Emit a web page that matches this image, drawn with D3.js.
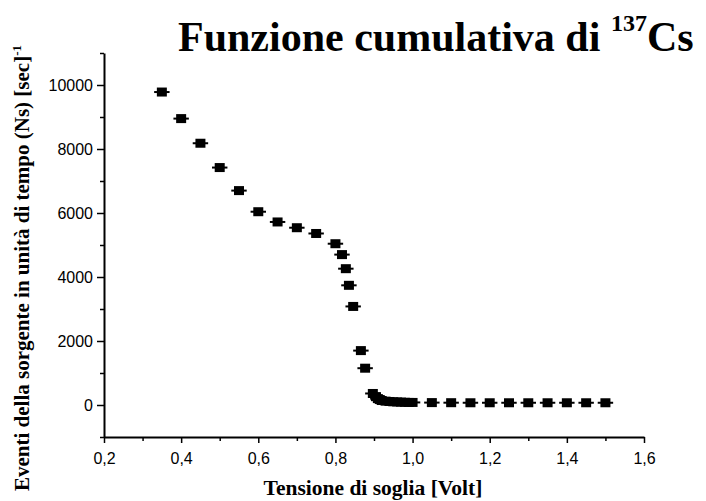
<!DOCTYPE html>
<html><head><meta charset="utf-8">
<script src="https://cdn.jsdelivr.net/npm/d3@7"></script>
<style>body{margin:0;background:#fff}svg{display:block}</style>
</head><body>
<script>
const voltage = [0.35,0.40,0.45,0.50,0.55,0.60,0.65,0.70,0.75,0.80,0.817,0.827,0.835,0.846,0.866,0.877,0.897,0.905,0.91,0.915,0.92,0.93,0.94,0.95,0.96,0.97,0.98,0.99,1.00,1.05,1.10,1.15,1.20,1.25,1.30,1.35,1.40,1.45,1.50];
const counts  = [9780,8950,8180,7420,6700,6040,5720,5540,5360,5040,4700,4260,3740,3080,1700,1150,360,260,200,170,140,120,110,100,95,90,85,80,80,75,72,70,70,70,70,70,70,70,70];
const xTicks = [0.2,0.4,0.6,0.8,1.0,1.2,1.4,1.6];
const xMinor = [0.3,0.5,0.7,0.9,1.1,1.3,1.5];
const yTicks = [0,2000,4000,6000,8000,10000];
const yMinor = [-1000,1000,3000,5000,7000,9000,11000];
const xErr = 0.02;

const W=706,H=501;
const svg=d3.select("body").append("svg").attr("width",W).attr("height",H);
const x=d3.scaleLinear().domain([0.2,1.6]).range([104,644]);
const y=d3.scaleLinear().domain([-1000,11000]).range([437,53]);
const fmt=d=>d3.format(".1f")(d).replace(".",",");

// axes
const xAx=svg.append("g").attr("transform",`translate(0,${y(-1000)})`)
  .call(d3.axisBottom(x).tickValues(xTicks).tickFormat(fmt).tickSize(6).tickSizeOuter(0));
const yAx=svg.append("g").attr("transform",`translate(${x(0.2)},0)`)
  .call(d3.axisLeft(y).tickValues(yTicks).tickFormat(d3.format("d")).tickSize(7).tickSizeOuter(0));
[xAx,yAx].forEach(g=>{
  g.attr("font-size",16).attr("font-family","'Liberation Sans',Arial,sans-serif");
  g.select(".domain").attr("stroke","#000").attr("stroke-width",2);
  g.selectAll(".tick line").attr("stroke","#000").attr("stroke-width",1.5);
  g.selectAll("text").attr("font-family","'Liberation Sans',Arial,sans-serif").attr("font-size",16).attr("fill","#000");
});
xAx.selectAll("text").attr("dy","1.15em");
yAx.selectAll("text").attr("dx","-1");
svg.append("g").attr("transform",`translate(0,${y(-1000)})`)
  .call(d3.axisBottom(x).tickValues(xMinor).tickFormat("").tickSize(4).tickSizeOuter(0))
  .call(g=>{g.select(".domain").remove();g.selectAll("line").attr("stroke","#000").attr("stroke-width",1.5);});
svg.append("g").attr("transform",`translate(${x(0.2)},0)`)
  .call(d3.axisLeft(y).tickValues(yMinor).tickFormat("").tickSize(4).tickSizeOuter(0))
  .call(g=>{g.select(".domain").remove();g.selectAll("line").attr("stroke","#000").attr("stroke-width",1.5);});

// data
const pts=voltage.map((v,i)=>({v,c:counts[i]}));
const gp=svg.append("g");
gp.selectAll("line.err").data(pts).enter().append("line")
  .attr("x1",d=>x(d.v-xErr)).attr("x2",d=>x(d.v+xErr))
  .attr("y1",d=>y(d.c)).attr("y2",d=>y(d.c)).attr("stroke","#000").attr("stroke-width",2);
gp.selectAll("rect").data(pts).enter().append("rect")
  .attr("x",d=>x(d.v)-5).attr("y",d=>y(d.c)-4.5).attr("width",10).attr("height",9).attr("fill","#000");

// title
const t=svg.append("text").attr("x",178).attr("y",51)
  .attr("font-family","'Liberation Serif','Times New Roman',serif").attr("font-weight","bold").attr("font-size",42).attr("fill","#000");
t.append("tspan").text("Funzione cumulativa di ");
t.append("tspan").attr("font-size",24).attr("dy",-20).text("137");
t.append("tspan").attr("dy",20).text("Cs");

// axis labels
svg.append("text").attr("x",373).attr("y",495).attr("text-anchor","middle")
  .attr("font-family","'Liberation Serif','Times New Roman',serif").attr("font-weight","bold").attr("font-size",21.5).text("Tensione di soglia [Volt]");
const yl=svg.append("text").attr("transform","translate(29,268) rotate(-90)").attr("text-anchor","middle")
  .attr("font-family","'Liberation Serif','Times New Roman',serif").attr("font-weight","bold").attr("font-size",21);
yl.append("tspan").text("Eventi della sorgente in unità di tempo (Ns) [sec]");
yl.append("tspan").attr("font-size",13).attr("dy",-8).text("-1");
</script>
</body></html>
